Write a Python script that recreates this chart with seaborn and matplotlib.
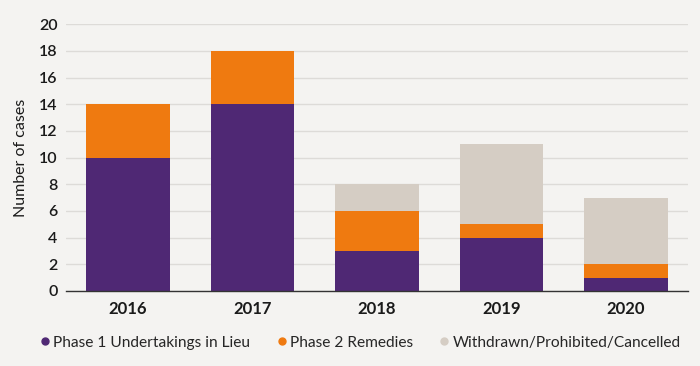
import matplotlib
matplotlib.use("Agg")
import matplotlib.pyplot as plt
import seaborn as sns
import pandas as pd
import numpy as np
from matplotlib.lines import Line2D

years = ["2016", "2017", "2018", "2019", "2020"]
phase1 = [10, 14, 3, 4, 1]
phase2 = [4, 4, 3, 1, 1]
withdrawn = [0, 0, 2, 6, 5]
series_names = ["Phase 1 Undertakings in Lieu", "Phase 2 Remedies", "Withdrawn/Prohibited/Cancelled"]
colors = ["#4f2874", "#ef7a10", "#d5cdc4"]
yticks = [0, 2, 4, 6, 8, 10, 12, 14, 16, 18, 20]

bg = "#f4f3f1"
sns.set_theme(style="white")
plt.rcParams["font.family"] = ["Lato", "DejaVu Sans"]

df = pd.DataFrame({"year": years, "p1": phase1, "p2": phase2, "w": withdrawn})
df["c1"] = df["p1"]
df["c2"] = df["p1"] + df["p2"]
df["c3"] = df["c2"] + df["w"]

fig = plt.figure(figsize=(7, 3.66), dpi=100, facecolor=bg)
ax = fig.add_axes([0.094, 0.205, 0.889, 0.729])
ax.set_facecolor(bg)

ax.yaxis.grid(True, color="#dddbd8", linewidth=1)
ax.set_axisbelow(True)

for col, c in zip(["c3", "c2", "c1"], colors[::-1]):
    sns.barplot(data=df, x="year", y=col, color=c, width=0.67, ax=ax,
                saturation=1, edgecolor="none", linewidth=0)

ax.set_ylim(0, 20)
ax.set_yticks(yticks)
ax.set_xlim(-0.5, 4.5)
ax.set_ylabel("Number of cases", fontsize=11.5, labelpad=8, color="#1a1a1a")
ax.set_xlabel("")
ax.tick_params(axis="y", labelsize=11.5, length=0, pad=6, colors="#1a1a1a")
ax.tick_params(axis="x", labelsize=12, length=0, pad=7, colors="#1a1a1a")
for lab in ax.get_xticklabels():
    lab.set_fontweight("bold")
for lab in ax.get_yticklabels():
    lab.set_fontweight("semibold")

for s in ["left", "right", "top"]:
    ax.spines[s].set_visible(False)
ax.spines["bottom"].set_color("#333333")
ax.spines["bottom"].set_linewidth(1)

handles = [Line2D([0], [0], marker="o", linestyle="none", markersize=5,
                  markerfacecolor=c, markeredgecolor=c) for c in colors]
leg = fig.legend(handles, series_names, loc="center", bbox_to_anchor=(0.513, 0.063),
                 ncol=3, frameon=False, fontsize=11.2, handletextpad=0.05,
                 columnspacing=1.5, handlelength=1.0)

fig.savefig("out.png", dpi=100, facecolor=bg)
